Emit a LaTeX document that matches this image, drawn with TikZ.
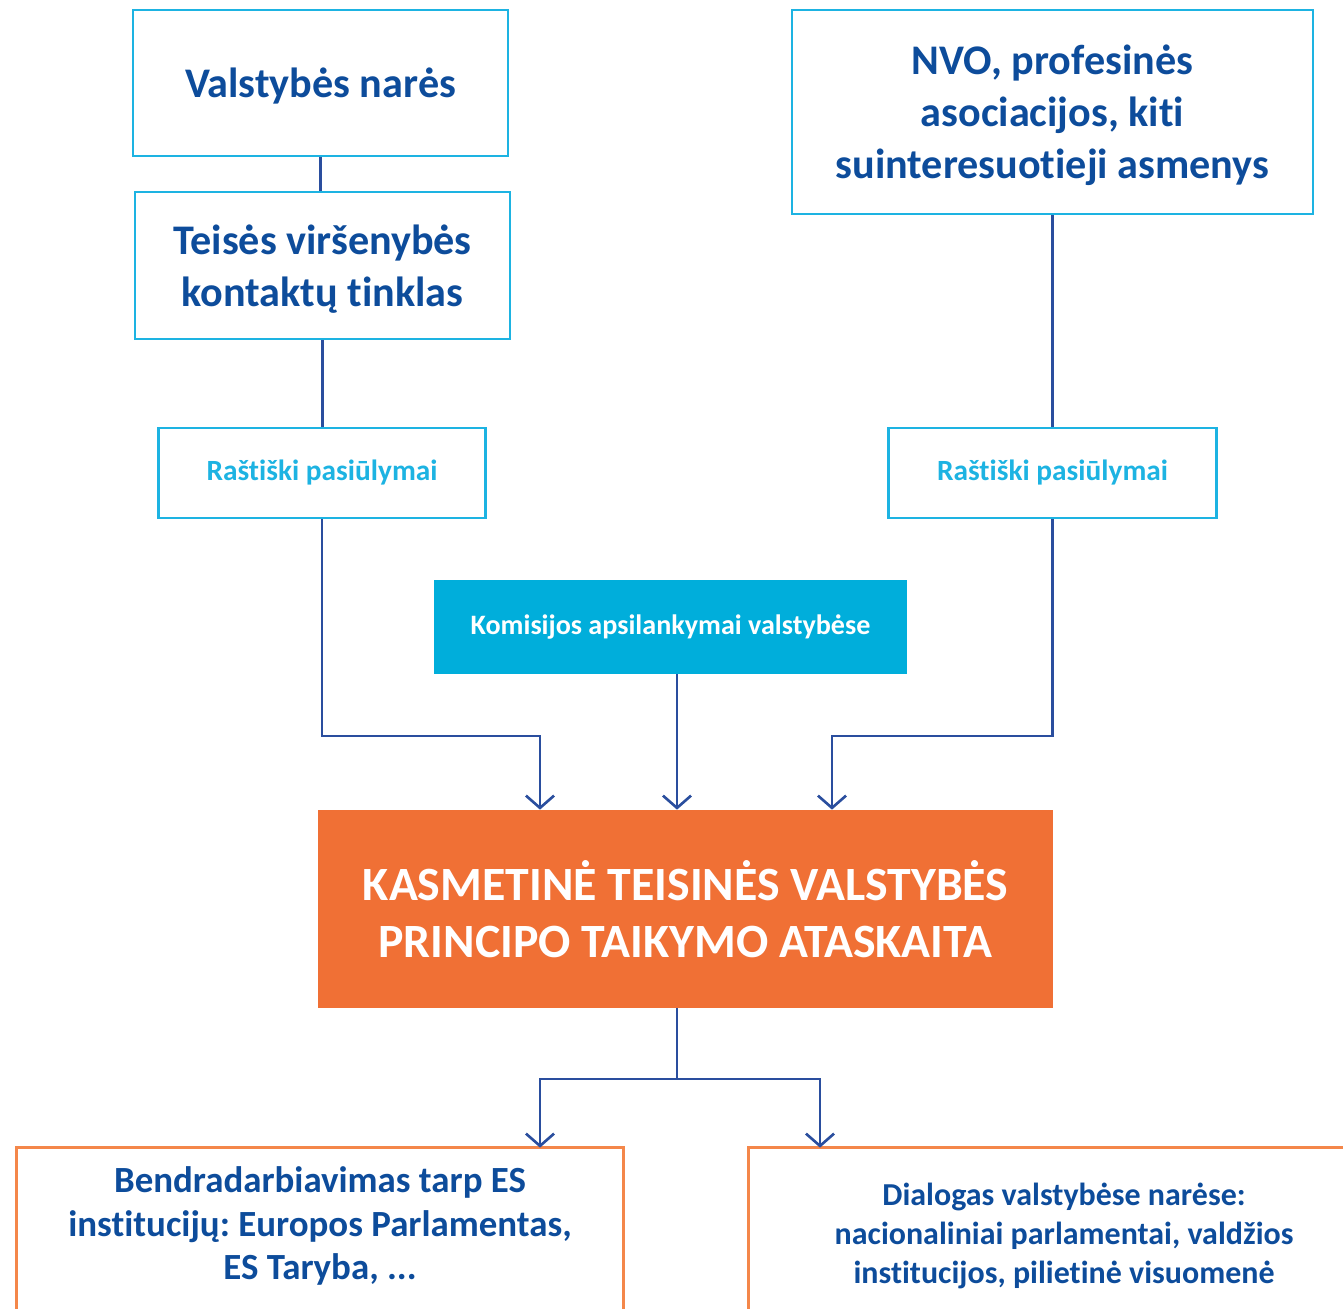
\documentclass[tikz,border=0pt]{standalone}
\usepackage{fontspec}
\setmainfont{Carlito}[Ligatures=NoCommon]
\usetikzlibrary{arrows.meta}
\frenchspacing

\definecolor{navy}{HTML}{0D4C9B}
\definecolor{linkblue}{HTML}{2A4E9E}
\definecolor{skyline}{HTML}{1DB3E2}
\definecolor{skyfill}{HTML}{00AEDB}
\definecolor{reportorange}{HTML}{F07035}
\definecolor{loworange}{HTML}{F4874A}

\begin{document}
\begin{tikzpicture}[
    x = 0.02cm,
    y = -0.02cm,
    >={Straight Barb[length=7pt,width=16pt,line width=1.5pt]},
    link/.style = {
      draw = linkblue,
      line width = 1.5pt
    },
    topbox/.style = {
      draw = skyline,
      line width = 1.6pt,
      text = navy,
      align = center,
      text depth = 0pt,
      font = \fontsize{24}{29.5}\selectfont\bfseries
    },
    memobox/.style = {
      draw = skyline,
      line width = 1.6pt,
      text = skyline,
      minimum width = 6.55cm,
      minimum height = 1.8cm,
      font = \fontsize{16.7}{19}\selectfont\bfseries
    },
    lowbox/.style = {
      text = navy,
      align = center
    },
    lowline/.style = {
      draw = loworange,
      line width = 1.6pt
    }
  ]
  \useasboundingbox (0,0) rectangle (1343,1309);

  % sources
  \node[topbox, minimum width=7.5cm, minimum height=2.92cm] (members) at (320.5,83) {Valstybės narės};
  \node[topbox, minimum width=7.5cm, minimum height=2.94cm] (network) at (322.5,265.5) {Teisės viršenybės\\kontaktų tinklas};
  \node[topbox, minimum width=10.42cm, minimum height=4.08cm] (ngo) at (1052.5,112) {NVO, profesinės\\asociacijos, kiti\\suinteresuotieji asmenys};

  \node[memobox] (memoL) at (322,473) {Raštiški pasiūlymai};
  \node[memobox] (memoR) at (1052.5,473) {Raštiški pasiūlymai};

  \node[fill=skyfill, text=white, minimum width=9.46cm, minimum height=1.88cm,
        font=\fontsize{16}{19}\selectfont\bfseries] (visits) at (670.5,627) {Komisijos apsilankymai valstybėse};

  \node[fill=reportorange, text=white, align=center, minimum width=14.7cm, minimum height=3.96cm,
        text depth=0pt, font=\fontsize{27.2}{33}\selectfont\bfseries] (report) at (685.5,909) {KASMETINĖ TEISINĖS VALSTYBĖS\\PRINCIPO TAIKYMO ATASKAITA};

  % outcomes
  \node[lowbox, minimum width=12.14cm, minimum height=3.12cm,
        font=\fontsize{21}{25}\selectfont\bfseries] (coop) at (320,1226) {Bendradarbiavimas tarp ES\\institucijų: Europos Parlamentas,\\ES Taryba, ...};
  \node[lowbox, minimum width=12.6cm, minimum height=3.52cm,
        font=\fontsize{18.2}{22}\selectfont\bfseries] (dialog) at (1064,1236) {Dialogas valstybėse narėse:\\nacionaliniai parlamentai, valdžios\\institucijos, pilietinė visuomenė};
  \draw[lowline] ([yshift=-20pt]coop.south west) -- (coop.north west) -- (coop.north east) -- ([yshift=-20pt]coop.south east);
  \draw[lowline] ([yshift=-20pt]dialog.south west) -- (dialog.north west) -- (dialog.north east) -- ([yshift=-20pt]dialog.south east);

  \coordinate (axis) at (677,0);
  \coordinate (tapL) at (540,736);
  \coordinate (tapR) at (832,736);
  \coordinate (forkL) at (540,1079);
  \coordinate (forkR) at (820,1079);

  \draw[link] (members.south) -- (members.south |- network.north);
  \draw[link] (network.south) -- (network.south |- memoL.north);
  \draw[link] (ngo.south) -- (memoR.north);

  \draw[link,->] (memoL.south) |- (tapL) -- (tapL |- report.north);
  \draw[link,->] (memoR.south) |- (tapR) -- (tapR |- report.north);
  \draw[link,->] (visits.south -| axis) -- (report.north -| axis);

  \draw[link,->] (report.south -| axis) |- (forkL) -- (forkL |- coop.north);
  \draw[link,->] (report.south -| axis) |- (forkR) -- (forkR |- dialog.north);
\end{tikzpicture}
\end{document}
